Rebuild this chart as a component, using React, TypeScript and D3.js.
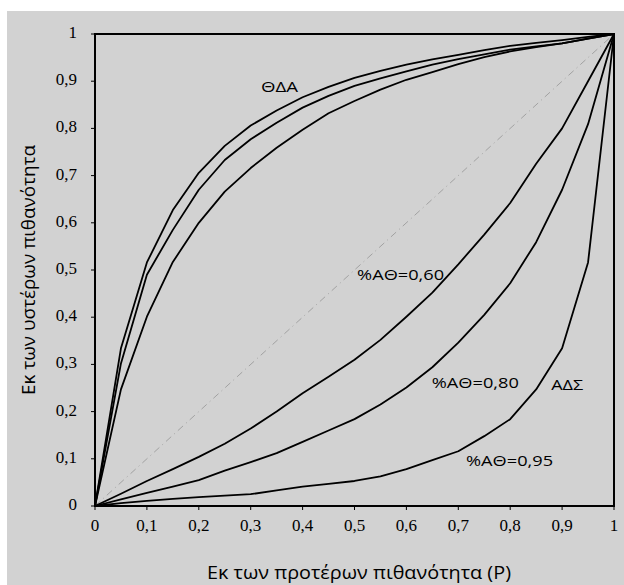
import React from "react";
import * as d3 from "d3";

// prior probabilities (x) shared by every curve
const priors = [0, 0.05, 0.1, 0.15, 0.2, 0.25, 0.3, 0.35, 0.4, 0.45, 0.5,
  0.55, 0.6, 0.65, 0.7, 0.75, 0.8, 0.85, 0.9, 0.95, 1];

// upper bundle (ΘΔΑ)
const upperA = [0, 0.334, 0.516, 0.627, 0.706, 0.763, 0.806, 0.838, 0.866, 0.888, 0.907,
  0.922, 0.935, 0.946, 0.956, 0.966, 0.975, 0.981, 0.987, 0.994, 1];
const upperB = [0, 0.302, 0.49, 0.585, 0.67, 0.733, 0.777, 0.812, 0.844, 0.869, 0.89,
  0.906, 0.921, 0.935, 0.947, 0.957, 0.967, 0.974, 0.98, 0.99, 1];
const upperC = [0, 0.247, 0.401, 0.517, 0.6, 0.666, 0.716, 0.759, 0.797, 0.832, 0.858,
  0.882, 0.903, 0.919, 0.936, 0.951, 0.963, 0.972, 0.98, 0.99, 1];

// lower bundle (ΑΔΣ)
const lower060 = [0, 0.026, 0.053, 0.078, 0.104, 0.132, 0.164, 0.2, 0.239, 0.274, 0.31,
  0.352, 0.401, 0.452, 0.512, 0.575, 0.642, 0.725, 0.8, 0.9, 1];
const lower080 = [0, 0.014, 0.028, 0.041, 0.055, 0.075, 0.093, 0.112, 0.136, 0.16, 0.184,
  0.215, 0.251, 0.294, 0.346, 0.405, 0.472, 0.559, 0.67, 0.809, 1];
const lower095 = [0, 0.006, 0.011, 0.015, 0.019, 0.022, 0.025, 0.033, 0.041, 0.047, 0.053,
  0.063, 0.078, 0.097, 0.116, 0.148, 0.184, 0.247, 0.334, 0.516, 1];

const seriesList = [upperA, upperB, upperC, lower060, lower080, lower095];

const tickValues = [0, 0.1, 0.2, 0.3, 0.4, 0.5, 0.6, 0.7, 0.8, 0.9, 1];
const tickLabels = ["0", "0,1", "0,2", "0,3", "0,4", "0,5", "0,6", "0,7", "0,8", "0,9", "1"];

// text annotations: [text, x, y, width]
const annotations: [string, number, number, number][] = [
  ["ΘΔΑ", 0.32, 0.886, 37],
  ["%ΑΘ=0,60", 0.505, 0.487, 87],
  ["%ΑΘ=0,80", 0.649, 0.258, 87],
  ["ΑΔΣ", 0.879, 0.254, 32],
  ["%ΑΘ=0,95", 0.715, 0.093, 87],
];

const xTitle = "Εκ των προτέρων πιθανότητα (Ρ)";
const yTitle = "Εκ των υστέρων πιθανότητα";

const W = 624, H = 585;
const left = 95, right = 614, top = 34, bottom = 506;
const sans = "'Open Sans', sans-serif";
const serif = "'Liberation Serif', 'Times New Roman', serif";

export default function App() {
  const x = d3.scaleLinear().domain([0, 1]).range([left, right]);
  const y = d3.scaleLinear().domain([0, 1]).range([bottom, top]);
  const line = d3.line<number>()
    .x((_, i) => x(priors[i]))
    .y((d) => y(d));

  return (
    <svg width={W} height={H} style={{position: "absolute", left: 0, top: 0}}>
      <rect x={7} y={11} width={W - 7} height={H - 11} fill="#d2d2d2"/>

      {/* diagonal */}
      <line x1={x(0)} y1={y(0)} x2={x(1)} y2={y(1)} stroke="#8c8c8c"
            strokeWidth={0.7} strokeDasharray="7,4,1,4"/>

      {seriesList.map((s, i) => (
        <path key={i} d={line(s) || ""} fill="none" stroke="#000" strokeWidth={1.8}
              strokeLinejoin="round"/>
      ))}

      <rect x={left} y={top} width={right - left} height={bottom - top}
            fill="none" stroke="#000" strokeWidth={2}/>

      {tickValues.map((t, i) => (
        <g key={"x" + i}>
          <line x1={x(t)} x2={x(t)} y1={bottom} y2={bottom + 4} stroke="#000"/>
          <text x={x(t)} y={527} textAnchor="middle" dominantBaseline="middle"
                fontFamily={serif} fontSize={17}>{tickLabels[i]}</text>
        </g>
      ))}
      {tickValues.map((t, i) => (
        <g key={"y" + i}>
          <line x1={left - 4} x2={left} y1={y(t)} y2={y(t)} stroke="#000"/>
          <text x={77} y={y(t)} textAnchor="end" dominantBaseline="middle"
                fontFamily={serif} fontSize={17}>{tickLabels[i]}</text>
        </g>
      ))}

      {annotations.map(([txt, ax, ay, w], i) => (
        <text key={"a" + i} x={x(ax)} y={y(ay)} dominantBaseline="middle"
              fontFamily={sans} fontSize={15} textLength={w}
              lengthAdjust="spacingAndGlyphs">{txt}</text>
      ))}

      <text x={359} y={574} textAnchor="middle" dominantBaseline="middle"
            fontFamily={sans} fontSize={18} textLength={304}
            lengthAdjust="spacingAndGlyphs">{xTitle}</text>
      <text transform={`translate(30,${(top + bottom) / 2}) rotate(-90)`}
            textAnchor="middle" dominantBaseline="middle"
            fontFamily={sans} fontSize={18} textLength={250}
            lengthAdjust="spacingAndGlyphs">{yTitle}</text>
    </svg>
  );
}
